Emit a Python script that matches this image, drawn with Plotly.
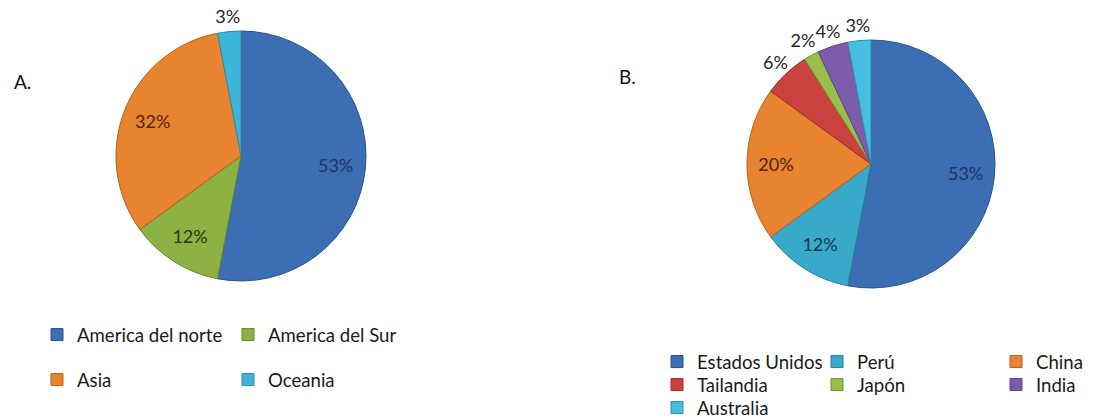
import plotly.graph_objects as go

# Chart A: share by region
regions = ["America del norte", "America del Sur", "Asia", "Oceania"]
regions_pct = [53, 12, 32, 3]
regions_colors = ["#3C6EB4", "#8DB142", "#E8832F", "#3DB5D8"]
regions_edge = ["#2B5189", "#67842C", "#B4621F", "#2A8AA6"]
regions_text = ["#1C3461", "#2B3A10", "#4F2508", "#10394A"]
regions_outside = [False, False, False, True]

# Chart B: share by country
countries = ["Estados Unidos", "Perú", "China", "Tailandia", "Japón", "India", "Australia"]
countries_pct = [53, 12, 20, 6, 2, 4, 3]
countries_colors = ["#3C6EB4", "#38A9C9", "#E8832F", "#C9423F", "#98BF4A", "#7F5CAB", "#45BEE2"]
countries_edge = ["#2B5189", "#277F98", "#B4621F", "#96302D", "#6F8F33", "#5D4282", "#2F90AD"]
countries_text = ["#1C3461", "#10394A", "#4F2508", "#4A1414", "#2B3A10", "#2C1F40", "#10394A"]
countries_outside = [False, False, False, True, True, True, True]

FONT = "Lato, 'Open Sans', sans-serif"
W, H = 1096, 420
LABEL = "%{percent:.0%}"


def px_domain(cx, cy, r):
    """Pie domain (paper fractions) for a pie centred at (cx, cy) px with radius r px."""
    return dict(x=[(cx - r) / W, (cx + r) / W], y=[1 - (cy + r) / H, 1 - (cy - r) / H])


fig = go.Figure()


def add_pie(labels, values, colors, edges, text_colors, outside, cx, cy, r):
    # the pie itself
    fig.add_trace(go.Pie(
        labels=labels, values=values, sort=False, direction="clockwise", rotation=0,
        domain=px_domain(cx, cy, r),
        marker=dict(colors=colors, line=dict(color=edges, width=1)),
        textinfo="none", showlegend=False, hoverinfo="label+percent",
    ))
    # transparent ring carrying the labels of the large slices, inside the pie
    fig.add_trace(go.Pie(
        labels=labels, values=values, sort=False, direction="clockwise", rotation=0,
        domain=px_domain(cx, cy, 119), hole=0.597,
        marker=dict(colors=["rgba(0,0,0,0)"] * len(values), line=dict(width=0)),
        texttemplate=["" if o else LABEL for o in outside],
        textposition="inside", insidetextorientation="horizontal",
        insidetextfont=dict(family=FONT, size=18, color=text_colors),
        showlegend=False, hoverinfo="skip",
    ))
    # transparent ring carrying the labels of the small slices, just outside the pie
    fig.add_trace(go.Pie(
        labels=labels, values=values, sort=False, direction="clockwise", rotation=0,
        domain=px_domain(cx, cy, r * 1.21), hole=0.86,
        marker=dict(colors=["rgba(0,0,0,0)"] * len(values), line=dict(width=0)),
        texttemplate=[LABEL if o else "" for o in outside],
        textposition="inside", insidetextorientation="horizontal",
        insidetextfont=dict(family=FONT, size=18, color="#262626"),
        showlegend=False, hoverinfo="skip",
    ))


add_pie(regions, regions_pct, regions_colors, regions_edge, regions_text, regions_outside, 241, 156, 125)
add_pie(countries, countries_pct, countries_colors, countries_edge, countries_text, countries_outside, 871, 164, 124)


# Legend entries: one legend per row so the rows can be spaced freely
def legend_entry(name, color, edge, legend, width):
    fig.add_trace(go.Scatter(
        x=[None], y=[None], mode="markers", name=name, legend=legend,
        legendwidth=width,
        marker=dict(symbol="square", size=12, color=color, line=dict(color=edge, width=1)),
        hoverinfo="skip",
    ))


for leg, idx in [("legend", [0, 1]), ("legend2", [2, 3])]:
    for i in idx:
        legend_entry(regions[i], regions_colors[i], regions_edge[i], leg, 146)

b_widths = [115, 134, 60]
for leg, idx in [("legend3", [0, 1, 2]), ("legend4", [3, 4, 5]), ("legend5", [6])]:
    for k, i in enumerate(idx):
        legend_entry(countries[i], countries_colors[i], countries_edge[i], leg, b_widths[k])


def legend_layout(x_px, y_px):
    return dict(
        orientation="h", x=x_px / W, xanchor="left", y=1 - y_px / H, yanchor="middle",
        font=dict(family=FONT, size=18.6, color="#1a1a1a"),
        bgcolor="rgba(0,0,0,0)", borderwidth=0,
        itemclick=False, itemdoubleclick=False,
    )


fig.update_layout(
    width=W, height=H,
    margin=dict(l=0, r=0, t=0, b=0, autoexpand=False),
    paper_bgcolor="white", plot_bgcolor="white",
    xaxis=dict(visible=False), yaxis=dict(visible=False),
    font=dict(family=FONT, size=18, color="#1a1a1a"),
    uniformtext=dict(minsize=18, mode="show"),
    legend=legend_layout(37, 335),
    legend2=legend_layout(37, 380),
    legend3=legend_layout(657, 362),
    legend4=legend_layout(657, 385),
    legend5=legend_layout(657, 408),
    annotations=[
        dict(text="A.", x=12 / W, y=1 - 82 / H, xref="paper", yref="paper",
             xanchor="left", yanchor="middle", showarrow=False,
             font=dict(family=FONT, size=19, color="#111111")),
        dict(text="B.", x=617 / W, y=1 - 76 / H, xref="paper", yref="paper",
             xanchor="left", yanchor="middle", showarrow=False,
             font=dict(family=FONT, size=19, color="#111111")),
    ],
)

fig.write_html("out.html")
